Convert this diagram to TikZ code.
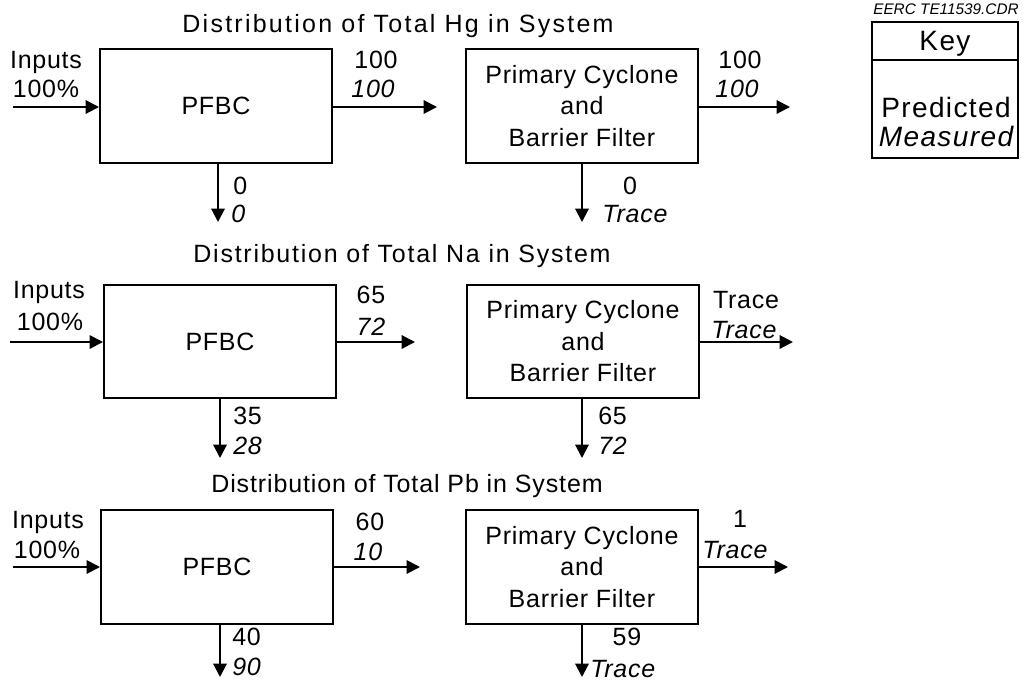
\documentclass[tikz,border=0pt]{standalone}
\usepackage{fontspec}
\setmainfont{Liberation Sans}[LetterSpace=3]
\usetikzlibrary{arrows.meta}
\newcommand\mainsz{\fontsize{18.75}{23.6}\selectfont}
\newcommand\keysz{\fontsize{21}{26}\selectfont\addfontfeature{LetterSpace=5}}
\newcommand\ttlsz{\fontsize{18.75}{22}\selectfont}
\begin{document}
\begin{tikzpicture}[x=0.75pt,y=-0.75pt,
  box/.style={draw, line width=1.5pt, inner sep=0pt, minimum width=174pt, minimum height=85pt, font=\mainsz, align=center},
  flow/.style={line width=1.5pt, -{Triangle[length=10pt,width=10pt]}},
  lbl/.style={inner sep=0pt, anchor=base, font=\mainsz},
  mlbl/.style={inner sep=0pt, anchor=base, font=\mainsz\itshape},
  ttl/.style={inner sep=0pt, anchor=base, font=\ttlsz},
  keytxt/.style={inner sep=0pt, anchor=base, font=\keysz}
]
\useasboundingbox (0,0) rectangle (1029,683);

% ---------------- Row A : Hg ----------------
\node[ttl] (tA) at (398,32) {\addfontfeature{LetterSpace=9}Distribution of Total Hg in System};
\node[box] (pfbcA) at (216,106) {PFBC};
\node[box] (cycA) at (582,106) {Primary Cyclone\\and\\Barrier Filter};
\coordinate (inA) at (13,107);
\coordinate (midA) at (437,107);
\coordinate (outA) at (790,107);
\coordinate (dpA) at (218,222);
\coordinate (dcA) at (582,222);
\draw[flow] (inA) -- (inA -| pfbcA.west);
\draw[flow] (pfbcA.east |- midA) -- (midA);
\draw[flow] (cycA.east |- outA) -- (outA);
\draw[flow] (pfbcA.south -| dpA) -- (dpA);
\draw[flow] (cycA.south -| dcA) -- (dcA);
\node[lbl] (inpA) at (46,68) {Inputs};
\node[lbl] (pctA) at (46,97) {100\%};
\node[lbl] (p1A) at (376,68) {100};
\node[mlbl] (m1A) at (373,97) {100};
\node[lbl] (p2A) at (740,68) {100};
\node[mlbl] (m2A) at (737,97) {100};
\node[lbl, anchor=base west] (p3A) at (233,194) {0};
\node[mlbl, anchor=base west] (m3A) at (231,222) {0};
\node[lbl] (p4A) at (630,194) {0};
\node[mlbl] (m4A) at (635,222) {Trace};

% ---------------- Key ----------------
\node[inner sep=0pt, anchor=base, font=\fontsize{11.5}{13}\selectfont\itshape\addfontfeature{LetterSpace=0}] (eerc) at (946,14) {EERC TE11539.CDR};
\node[draw, line width=1.5pt, inner sep=0pt, minimum width=109.5pt, minimum height=102pt] (key) at (945,90) {};
\coordinate (kdiv) at (945,60);
\draw[line width=1.2pt] (key.west |- kdiv) -- (key.east |- kdiv);
\node[keytxt] (keyt) at (945,50) {Key};
\node[keytxt] (pred) at (946,117) {Predicted};
\node[keytxt, font=\keysz\itshape] (meas) at (946,146) {Measured};

% ---------------- Row B : Na ----------------
\node[ttl] (tB) at (402,262) {\addfontfeature{LetterSpace=7}Distribution of Total Na in System};
\node[box] (pfbcB) at (220,341.5) {PFBC};
\node[box] (cycB) at (583,341.5) {Primary Cyclone\\and\\Barrier Filter};
\coordinate (inB) at (10,342);
\coordinate (midB) at (415,342);
\coordinate (outB) at (793,342);
\coordinate (dpB) at (220,458);
\coordinate (dcB) at (582,458);
\draw[flow] (inB) -- (inB -| pfbcB.west);
\draw[flow] (pfbcB.east |- midB) -- (midB);
\draw[flow] (cycB.east |- outB) -- (outB);
\draw[flow] (pfbcB.south -| dpB) -- (dpB);
\draw[flow] (cycB.south -| dcB) -- (dcB);
\node[lbl] (inpB) at (49,298) {Inputs};
\node[lbl] (pctB) at (50,330) {100\%};
\node[lbl] (p1B) at (371,303) {65};
\node[mlbl] (m1B) at (371,335) {72};
\node[lbl] (p2B) at (746,308) {Trace};
\node[mlbl] (m2B) at (744,338) {Trace};
\node[lbl, anchor=base west] (p3B) at (233,424) {35};
\node[mlbl, anchor=base west] (m3B) at (233,454) {28};
\node[lbl, anchor=base west] (p4B) at (598,424) {65};
\node[mlbl, anchor=base west] (m4B) at (598,454) {72};

% ---------------- Row C : Pb ----------------
\node[ttl] (tC) at (407,492) {\addfontfeature{LetterSpace=3.5}Distribution of Total Pb in System};
\node[box] (pfbcC) at (217,567) {PFBC};
\node[box] (cycC) at (582,567) {Primary Cyclone\\and\\Barrier Filter};
\coordinate (inC) at (13,567);
\coordinate (midC) at (420,567);
\coordinate (outC) at (788,567);
\coordinate (dpC) at (220,677);
\coordinate (dcC) at (582,677);
\draw[flow] (inC) -- (inC -| pfbcC.west);
\draw[flow] (pfbcC.east |- midC) -- (midC);
\draw[flow] (cycC.east |- outC) -- (outC);
\draw[flow] (pfbcC.south -| dpC) -- (dpC);
\draw[flow] (cycC.south -| dcC) -- (dcC);
\node[lbl] (inpC) at (48,528) {Inputs};
\node[lbl] (pctC) at (47,558) {100\%};
\node[lbl] (p1C) at (370,530) {60};
\node[mlbl] (m1C) at (368,560) {10};
\node[lbl] (p2C) at (740,527) {1};
\node[mlbl] (m2C) at (735,558) {Trace};
\node[lbl, anchor=base west] (p3C) at (232,645) {40};
\node[mlbl, anchor=base west] (m3C) at (232,675) {90};
\node[lbl] (p4C) at (627,645) {59};
\node[mlbl, anchor=base west] (m4C) at (590,677) {Trace};
\end{tikzpicture}
\end{document}
